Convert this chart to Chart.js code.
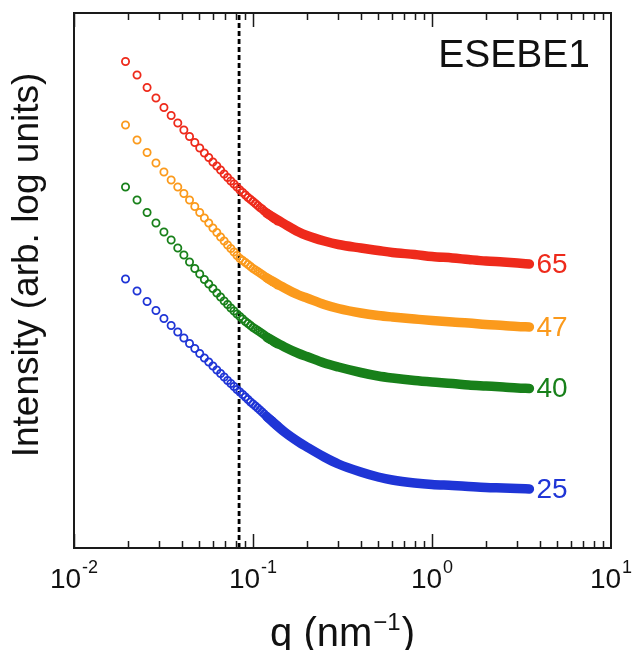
<!DOCTYPE html>
<html>
<head>
<meta charset="utf-8">
<title>ESEBE1 SAXS</title>
<script src="https://cdn.jsdelivr.net/npm/chart.js@4.4.1/dist/chart.umd.min.js"></script>
<style>
  html, body { margin: 0; padding: 0; background: #fff; }
  #saxsChart { display: block; }
</style>
</head>
<body>
<canvas id="saxsChart" width="634" height="650"></canvas>
<script>

// -------------------------
//      SAXS DATA
// -------------------------

// low-q points, drawn as open circles
const qMarkers = [0.0194, 0.0225, 0.0256, 0.0287, 0.0318, 0.0349, 0.0380, 0.0411, 0.0442, 0.0473,
    0.0504, 0.0535, 0.0566, 0.0597, 0.0628, 0.0659, 0.0690, 0.0721, 0.0752, 0.0783,
    0.0814, 0.0845, 0.0876, 0.0907, 0.0938, 0.0969, 0.1000, 0.1031, 0.1062, 0.1093,
    0.1124, 0.1155, 0.1186, 0.1217, 0.1248, 0.1279, 0.1310, 0.1341, 0.1372];

// high-q part, where the circles pile up into a solid band
const qBand = [0.12, 0.15, 0.18, 0.2, 0.25, 0.3, 0.4, 0.5, 0.6, 0.8, 1.0, 1.3, 1.6, 2.0, 2.5, 3.0, 3.5];

const red65Pts = [9.73, 9.46, 9.21, 9.00, 8.81, 8.65, 8.50, 8.36, 8.23, 8.11, 8.00, 7.90, 7.81, 7.72, 7.64, 7.56, 7.48, 7.41, 7.34, 7.28,
    7.22, 7.16, 7.11, 7.06, 7.01, 6.97, 6.93, 6.89, 6.85, 6.81, 6.78, 6.74, 6.71, 6.68, 6.65, 6.62, 6.59, 6.57, 6.54];
const red65Band = [6.69, 6.48, 6.32, 6.25, 6.14, 6.07, 6.00, 5.95, 5.91, 5.87, 5.83, 5.80, 5.77, 5.74, 5.72, 5.70, 5.68];

const orange47Pts = [8.46, 8.16, 7.91, 7.70, 7.52, 7.36, 7.22, 7.09, 6.96, 6.83, 6.71, 6.60, 6.50, 6.40, 6.31, 6.22, 6.14, 6.06, 5.99, 5.92,
    5.85, 5.79, 5.75, 5.71, 5.67, 5.63, 5.59, 5.56, 5.53, 5.50, 5.47, 5.44, 5.41, 5.38, 5.36, 5.33, 5.31, 5.29, 5.26];
const orange47Band = [5.40, 5.20, 5.06, 5.00, 4.87, 4.79, 4.70, 4.65, 4.62, 4.58, 4.55, 4.52, 4.50, 4.47, 4.45, 4.43, 4.42];

const green40Pts = [7.22, 6.96, 6.71, 6.50, 6.32, 6.16, 6.00, 5.86, 5.72, 5.59, 5.48, 5.37, 5.28, 5.19, 5.10, 5.02, 4.94, 4.87, 4.80, 4.74,
    4.68, 4.63, 4.58, 4.53, 4.49, 4.45, 4.41, 4.38, 4.35, 4.32, 4.29, 4.26, 4.23, 4.20, 4.17, 4.15, 4.12, 4.10, 4.08];
const green40Band = [4.21, 4.02, 3.89, 3.83, 3.70, 3.62, 3.51, 3.44, 3.40, 3.35, 3.32, 3.29, 3.26, 3.24, 3.22, 3.20, 3.19];

const blue25Pts = [5.38, 5.14, 4.93, 4.75, 4.59, 4.45, 4.32, 4.20, 4.09, 3.99, 3.89, 3.80, 3.72, 3.64, 3.56, 3.49, 3.42, 3.35, 3.29, 3.23,
    3.17, 3.12, 3.07, 3.02, 2.97, 2.92, 2.88, 2.84, 2.80, 2.76, 2.72, 2.68, 2.64, 2.60, 2.57, 2.54, 2.50, 2.47, 2.44];
const blue25Band = [2.62, 2.32, 2.12, 2.02, 1.82, 1.68, 1.52, 1.42, 1.36, 1.30, 1.27, 1.25, 1.23, 1.21, 1.20, 1.19, 1.18];

const seriesLabels = ["65", "47", "40", "25"];
const seriesColors = ["#ee2a1b", "#fb9a1c", "#18801a", "#1f35d6"];

const xTickValues = [0.01, 0.1, 1, 10];
const xTickExponents = ["-2", "-1", "0", "1"];

const dashedQ = 0.0836;
const yMin = 0, yMax = 10.7;

// -------------------------

const FONT = "'Liberation Sans', Arial, Helvetica, sans-serif";

const markerSets = [red65Pts, orange47Pts, green40Pts, blue25Pts];
const bandSets = [red65Band, orange47Band, green40Band, blue25Band];

function pairs(xs, ys) {
    return xs.map((x, i) => ({ x, y: ys[i] }));
}

const datasets = [];
markerSets.forEach((vals, idx) => {
    datasets.push({
        label: seriesLabels[idx] + " band",
        data: pairs(qBand, bandSets[idx]),
        borderColor: seriesColors[idx],
        borderWidth: 9.5,
        borderCapStyle: "round",
        borderJoinStyle: "round",
        cubicInterpolationMode: "monotone",
        pointRadius: 0,
        fill: false
    });
    datasets.push({
        label: seriesLabels[idx],
        data: pairs(qMarkers, vals),
        showLine: false,
        pointStyle: "circle",
        pointRadius: 3.6,
        pointBorderWidth: 1.8,
        pointBorderColor: seriesColors[idx],
        pointBackgroundColor: "rgba(0,0,0,0)"
    });
});

datasets.push({
    label: "cut",
    data: [{ x: dashedQ, y: yMin }, { x: dashedQ, y: yMax }],
    borderColor: "#000",
    borderWidth: 2.8,
    borderDash: [5, 3],
    pointRadius: 0
});

// frame, inward ticks, labels and titles
const decor = {
    id: "decor",
    afterDraw(chart) {
        const { ctx, chartArea: a, scales: { x, y } } = chart;
        ctx.save();

        // ticks on bottom and top
        ctx.strokeStyle = "#1a1a1a";
        ctx.lineWidth = 1.5;
        for (let d = -2; d <= 0; d++) {
            for (let m = 1; m <= 9; m++) {
                const px = Math.round(x.getPixelForValue(m * Math.pow(10, d))) + 0.5;
                const len = m === 1 ? 14 : 7;
                ctx.beginPath();
                ctx.moveTo(px, a.bottom); ctx.lineTo(px, a.bottom - len);
                ctx.moveTo(px, a.top); ctx.lineTo(px, a.top + len);
                ctx.stroke();
            }
        }

        // frame
        ctx.lineWidth = 2;
        ctx.strokeRect(a.left, a.top, a.right - a.left, a.bottom - a.top);

        // x tick labels 10^n
        ctx.fillStyle = "#111";
        ctx.textBaseline = "alphabetic";
        xTickValues.forEach((v, i) => {
            const px = x.getPixelForValue(v);
            ctx.font = "28px " + FONT;
            const wBase = ctx.measureText("10").width;
            ctx.font = "18px " + FONT;
            const wSup = ctx.measureText(xTickExponents[i]).width;
            const start = px - (wBase + wSup + 1) / 2;
            ctx.font = "28px " + FONT;
            ctx.textAlign = "left";
            ctx.fillText("10", start, 588);
            ctx.font = "18px " + FONT;
            ctx.fillText(xTickExponents[i], start + wBase + 1, 573);
        });

        // x title q (nm^-1)
        ctx.font = "40px " + FONT;
        const t1 = "q (nm", t3 = ")";
        const w1 = ctx.measureText(t1).width, w3 = ctx.measureText(t3).width;
        ctx.font = "24px " + FONT;
        const w2 = ctx.measureText("\u22121").width;
        const cx = (a.left + a.right) / 2;
        let sx = cx - (w1 + w2 + w3 + 2) / 2;
        ctx.font = "40px " + FONT;
        ctx.fillText(t1, sx, 646);
        ctx.font = "24px " + FONT;
        ctx.fillText("\u22121", sx + w1 + 1, 630);
        ctx.font = "40px " + FONT;
        ctx.fillText(t3, sx + w1 + w2 + 2, 646);

        // y title
        ctx.save();
        ctx.translate(28, 265);
        ctx.rotate(-Math.PI / 2);
        ctx.textAlign = "center";
        ctx.textBaseline = "middle";
        ctx.font = "37px " + FONT;
        ctx.fillText("Intensity (arb. log units)", 0, 0);
        ctx.restore();

        // sample name
        ctx.textAlign = "right";
        ctx.font = "39px " + FONT;
        ctx.fillText("ESEBE1", 590, 67);

        // series labels at the end of each curve
        ctx.textAlign = "left";
        ctx.textBaseline = "middle";
        ctx.font = "28px " + FONT;
        bandSets.forEach((vals, idx) => {
            const last = qBand.length - 1;
            ctx.fillStyle = seriesColors[idx];
            ctx.fillText(seriesLabels[idx], x.getPixelForValue(qBand[last]) + 7, y.getPixelForValue(vals[last]) + 1);
        });

        ctx.restore();
    }
};

const ctx = document.getElementById("saxsChart").getContext("2d");
const chart = new Chart(ctx, {
    type: "line",
    data: { datasets },
    options: {
        responsive: false,
        animation: false,
        devicePixelRatio: 1,
        layout: { padding: { left: 74, right: 23, top: 13, bottom: 102 } },
        plugins: { legend: { display: false }, tooltip: { enabled: false } },
        scales: {
            x: { type: "logarithmic", min: 0.01, max: 10, display: false },
            y: { type: "linear", min: yMin, max: yMax, display: false }
        }
    },
    plugins: [decor]
});
</script>
</body>
</html>
